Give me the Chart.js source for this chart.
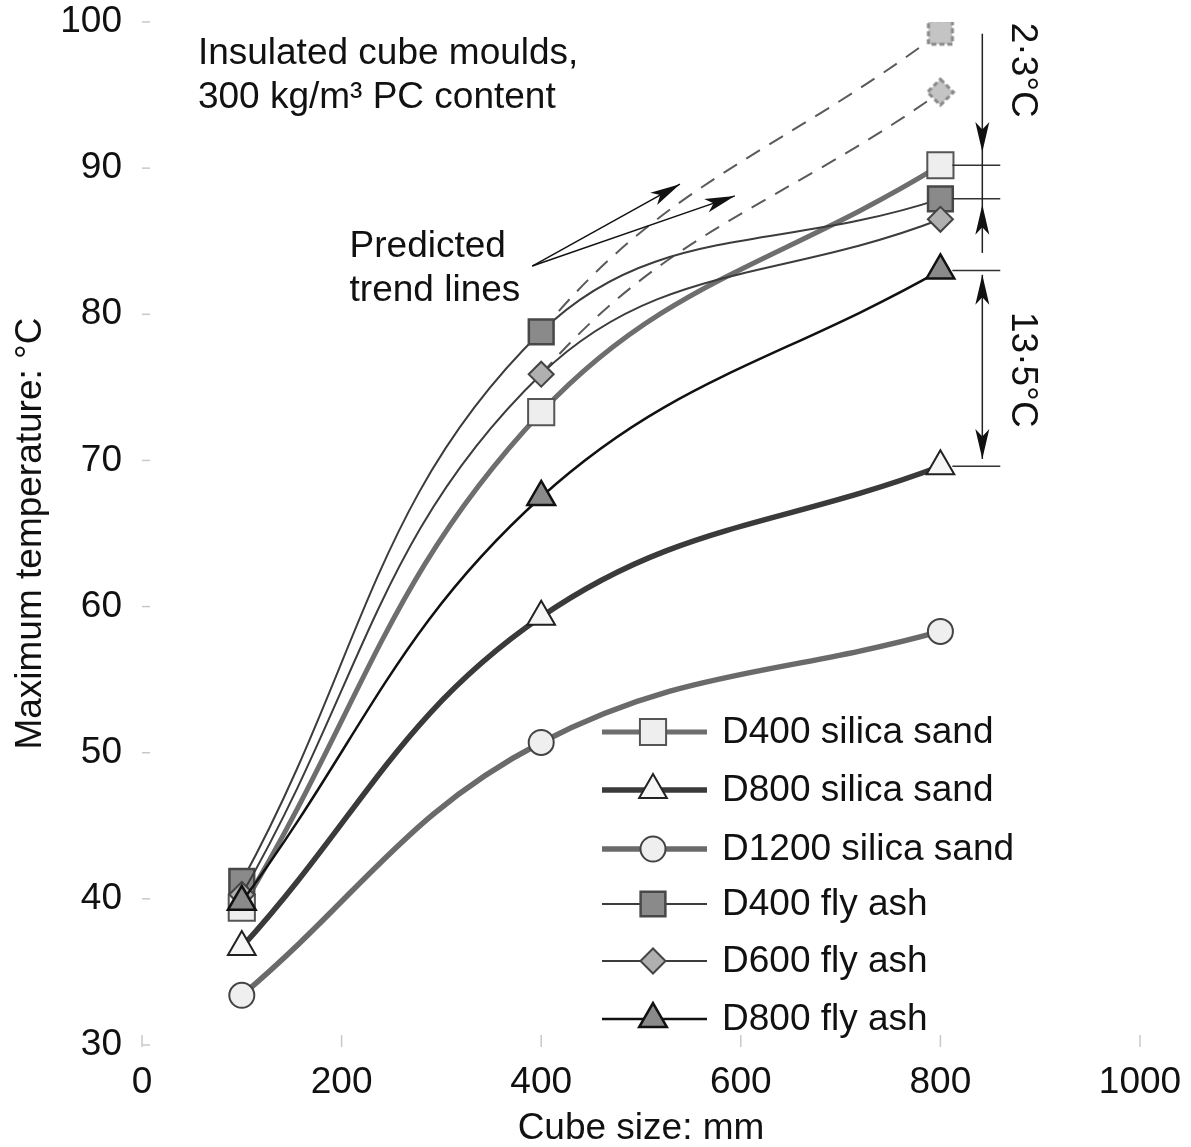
<!DOCTYPE html>
<html lang="en">
<head>
<meta charset="UTF-8">
<title>Maximum temperature vs cube size</title>
<script src="https://cdn.jsdelivr.net/npm/chart.js"></script>
<style>
  body { margin: 0; background: #fff; }
  canvas { display: block; }
</style>
</head>
<body>
<canvas id="chart" width="1191" height="1147"></canvas>
<script>
// data
const cubeSizes = [100, 400, 800];
const d400Silica = [39.4, 73.3, 90.2];
const d800Silica = [36.7, 59.3, 69.6];
const d1200Silica = [33.4, 50.7, 58.3];
const d400FlyAsh = [41.2, 78.8, 87.9];
const d600FlyAsh = [40.3, 75.9, 86.5];
const d800FlyAsh = [39.8, 67.5, 83.0];
// predicted trend lines (only the 400 -> 800 part is drawn)
const d400FlyAshTrend = [41.2, 78.8, 99.3];
const d600FlyAshTrend = [40.3, 75.9, 95.2];
const xTicks = [0, 200, 400, 600, 800, 1000];
const yTicks = [30, 40, 50, 60, 70, 80, 90, 100];

const FONT = '"Liberation Sans", Arial, sans-serif';
Chart.defaults.font.family = FONT;
Chart.defaults.font.size = 37;
Chart.defaults.color = '#111';

const pts = vals => cubeSizes.map((x, i) => ({x: x, y: vals[i]}));

// dashed outline markers for the predicted values
function dashedMarker(kind) {
  const c = document.createElement('canvas');
  c.width = 32; c.height = 32;
  const g = c.getContext('2d');
  g.fillStyle = '#c4c4c4';
  g.strokeStyle = '#8a8a8a';
  g.lineWidth = 3;
  g.setLineDash([5, 3]);
  g.beginPath();
  if (kind === 'rect') {
    g.rect(4, 4, 24, 24);
  } else {
    g.moveTo(16, 3); g.lineTo(29, 16); g.lineTo(16, 29); g.lineTo(3, 16); g.closePath();
  }
  g.fill(); g.stroke();
  return c;
}

function series(label, vals, o) {
  return Object.assign({
    label: label,
    data: pts(vals),
    tension: 0.4,
    pointBorderWidth: 2,
    fill: false
  }, o);
}

const trendSegment = {
  borderColor: ctx => ctx.p0DataIndex === 0 ? 'rgba(0,0,0,0)' : '#5a5a5a',
  borderDash: ctx => ctx.p0DataIndex === 0 ? [] : [16, 11]
};

const datasets = [
  series('D400 silica sand', d400Silica, {borderColor: '#6e6e6e', borderWidth: 5,
    pointStyle: 'rect', pointRadius: 18.5, pointBackgroundColor: '#eeeeee', pointBorderColor: '#555', order: 8}),
  series('D800 silica sand', d800Silica, {borderColor: '#3a3a3a', borderWidth: 5.5,
    pointStyle: 'triangle', pointRadius: 16, pointBackgroundColor: '#f6f6f6', pointBorderColor: '#222', order: 7}),
  series('D1200 silica sand', d1200Silica, {borderColor: '#6a6a6a', borderWidth: 5.5,
    pointStyle: 'circle', pointRadius: 12.5, pointBackgroundColor: '#efefef', pointBorderColor: '#444', order: 6}),
  series('D400 fly ash', d400FlyAsh, {borderColor: '#3c3c3c', borderWidth: 2,
    pointStyle: 'rect', pointRadius: 17.5, pointBackgroundColor: '#8a8a8a', pointBorderColor: '#484848', pointBorderWidth: 2.5, order: 5}),
  series('D600 fly ash', d600FlyAsh, {borderColor: '#3c3c3c', borderWidth: 2,
    pointStyle: 'rectRot', pointRadius: 12.5, pointBackgroundColor: '#b0b0b0', pointBorderColor: '#444', order: 4}),
  series('D800 fly ash', d800FlyAsh, {borderColor: '#111', borderWidth: 2.5,
    pointStyle: 'triangle', pointRadius: 16, pointBackgroundColor: '#8a8a8a', pointBorderColor: '#111', pointBorderWidth: 2.5, order: 3}),
  series('D400 fly ash trend', d400FlyAshTrend, {borderWidth: 2, segment: trendSegment,
    pointStyle: dashedMarker('rect'), pointRadius: [0, 0, 14], order: 9, inLegend: false}),
  series('D600 fly ash trend', d600FlyAshTrend, {borderWidth: 2, segment: trendSegment,
    pointStyle: dashedMarker('diamond'), pointRadius: [0, 0, 14], order: 9, inLegend: false})
];

// legend drawn inside the plot, lower right
const insideLegend = {
  id: 'insideLegend',
  afterDraw(chart) {
    const {ctx, chartArea} = chart;
    const rows = [732, 790, 849, 904, 961, 1019];
    const x0 = chartArea.left + 460, x1 = chartArea.left + 565, xm = chartArea.left + 511;
    ctx.save();
    chart.data.datasets.filter(d => d.inLegend !== false).forEach((d, i) => {
      const y = rows[i];
      ctx.strokeStyle = d.borderColor;
      ctx.lineWidth = d.borderWidth;
      ctx.beginPath(); ctx.moveTo(x0, y); ctx.lineTo(x1, y); ctx.stroke();
      ctx.fillStyle = d.pointBackgroundColor;
      ctx.strokeStyle = d.pointBorderColor;
      ctx.lineWidth = d.pointBorderWidth;
      Chart.helpers.drawPoint(ctx, {pointStyle: d.pointStyle, rotation: 0, radius: d.pointRadius, borderWidth: d.pointBorderWidth}, xm, y);
      ctx.fillStyle = '#111';
      ctx.font = '37px ' + FONT;
      ctx.textBaseline = 'middle';
      ctx.fillText(d.label, chartArea.left + 580, y + 1);
    });
    ctx.restore();
  }
};

function arrowHead(ctx, tx, ty, fx, fy) {
  const len = 30, hw = 7;
  const dx = tx - fx, dy = ty - fy, L = Math.hypot(dx, dy);
  const ux = dx / L, uy = dy / L;
  const bx = tx - ux * len, by = ty - uy * len;
  const nx = tx - ux * len * 0.75, ny = ty - uy * len * 0.75;
  ctx.beginPath();
  ctx.moveTo(tx, ty);
  ctx.lineTo(bx - uy * hw, by + ux * hw);
  ctx.lineTo(nx, ny);
  ctx.lineTo(bx + uy * hw, by - ux * hw);
  ctx.closePath();
  ctx.fill();
}

// text notes, dimension arrows and tick lines
const notes = {
  id: 'notes',
  afterDatasetsDraw(chart) {
    const {ctx, scales: {x, y}} = chart;
    const px = v => x.getPixelForValue(v), py = v => y.getPixelForValue(v);
    ctx.save();
    ctx.fillStyle = '#111';
    ctx.font = '37px ' + FONT;
    ctx.textBaseline = 'alphabetic';
    ctx.fillText('Insulated cube moulds,', px(56), py(97.1));
    ctx.fillText('300 kg/m³ PC content', px(56), py(94.1));
    ctx.fillText('Predicted', px(208), py(83.9));
    ctx.fillText('trend lines', px(208), py(80.9));

    // arrows to the predicted lines
    ctx.strokeStyle = '#111'; ctx.lineWidth = 1.5;
    const from = [px(391), py(83.3)];
    [[539, 88.9], [594, 88.1]].forEach(t => {
      ctx.beginPath(); ctx.moveTo(from[0], from[1]); ctx.lineTo(px(t[0]), py(t[1])); ctx.stroke();
      arrowHead(ctx, px(t[0]), py(t[1]), from[0], from[1]);
    });

    // horizontal ticks at the 800 mm values
    ctx.strokeStyle = '#333'; ctx.lineWidth = 1.5;
    [d400Silica[2], d400FlyAsh[2], d800FlyAsh[2], d800Silica[2]].forEach(v => {
      ctx.beginPath(); ctx.moveTo(px(812), py(v)); ctx.lineTo(px(860), py(v)); ctx.stroke();
    });

    // dimension arrows
    const ax = px(842);
    ctx.strokeStyle = '#222';
    ctx.beginPath(); ctx.moveTo(ax, py(99.2)); ctx.lineTo(ax, py(84.2)); ctx.stroke();
    arrowHead(ctx, ax, py(d400Silica[2] + 0.9), ax, py(99.2));
    arrowHead(ctx, ax, py(d400FlyAsh[2] - 0.4), ax, py(84.2));
    ctx.beginPath(); ctx.moveTo(ax, py(d800FlyAsh[2] - 0.3)); ctx.lineTo(ax, py(d800Silica[2] + 0.5)); ctx.stroke();
    arrowHead(ctx, ax, py(d800FlyAsh[2] - 0.3), ax, py(d800Silica[2]));
    arrowHead(ctx, ax, py(d800Silica[2] + 0.5), ax, py(d800FlyAsh[2]));

    // rotated labels
    [['2·3°C', 96.7], ['13·5°C', 76.2]].forEach(t => {
      ctx.save();
      ctx.translate(px(882), py(t[1]));
      ctx.rotate(Math.PI / 2);
      ctx.textAlign = 'center';
      ctx.textBaseline = 'middle';
      ctx.fillText(t[0], 0, 0);
      ctx.restore();
    });

    // small inside tick marks
    ctx.strokeStyle = '#c8c8c8'; ctx.lineWidth = 1.5;
    xTicks.forEach(v => {
      ctx.beginPath(); ctx.moveTo(px(v), y.bottom - 10); ctx.lineTo(px(v), y.bottom + 2); ctx.stroke();
    });
    yTicks.forEach(v => {
      ctx.beginPath(); ctx.moveTo(x.left, py(v)); ctx.lineTo(x.left + 8, py(v)); ctx.stroke();
    });
    ctx.restore();
  }
};

new Chart(document.getElementById('chart'), {
  type: 'line',
  data: {datasets: datasets},
  options: {
    responsive: false,
    animation: false,
    layout: {padding: {top: 22, right: 51, left: 0, bottom: 0}},
    plugins: {legend: {display: false}, tooltip: {enabled: false}},
    scales: {
      x: {
        type: 'linear', min: 0, max: 1000,
        afterBuildTicks: s => { s.ticks = xTicks.map(v => ({value: v})); },
        afterFit: s => { s.height = 102; s.paddingLeft = 0; s.paddingRight = 0; },
        grid: {display: false, drawTicks: false}, border: {display: false},
        ticks: {padding: 16, maxRotation: 0, callback: v => String(v)},
        title: {display: true, text: 'Cube size: mm', font: {size: 37, lineHeight: 1}, padding: {top: 0, bottom: 0}}
      },
      y: {
        min: 30, max: 100,
        afterBuildTicks: s => { s.ticks = yTicks.map(v => ({value: v})); },
        afterFit: s => { s.width = 142; s.paddingTop = 0; s.paddingBottom = 0; },
        grid: {display: false, drawTicks: false}, border: {display: false},
        ticks: {padding: 20, callback: v => String(v)},
        title: {display: true, text: 'Maximum temperature: °C', font: {size: 37, lineHeight: 1}, padding: {top: 12, bottom: 0}}
      }
    }
  },
  plugins: [notes, insideLegend]
});
</script>
</body>
</html>
